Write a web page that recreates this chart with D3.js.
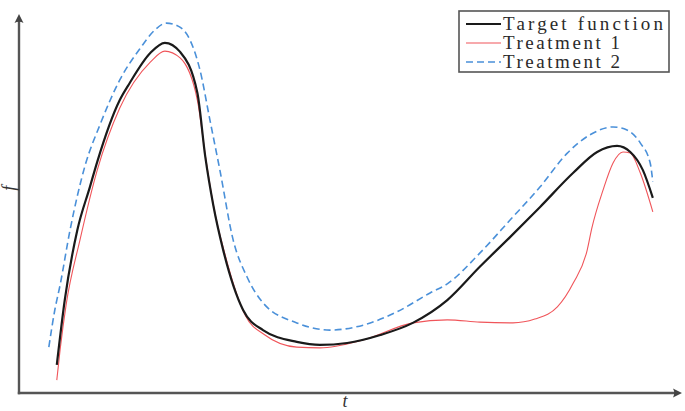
<!DOCTYPE html>
<html>
<head>
<meta charset="utf-8">
<script src="https://cdn.jsdelivr.net/npm/d3@7"></script>
<style>
  body{margin:0;background:#fff}
  svg{display:block}
  .axis .domain{stroke:#555;stroke-width:2.4}
  .label{font-family:"Liberation Serif","DejaVu Serif",serif;font-style:italic;font-size:18px;fill:#333}
  .legend text{font-family:"Liberation Serif","DejaVu Serif",serif;font-size:19px;fill:#2a2a2a}
</style>
</head>
<body>
<div id="chart"><svg></svg></div>
<script>
// values (t, f in axis units 0..10)
const seriesNames = ['Target function', 'Treatment 1', 'Treatment 2']

const tTarget = [0.57,0.69,0.88,1.07,1.18,1.52,1.67,1.98,2.2,2.43,2.69,2.81,2.93,3.08,3.38,3.68,4.19,4.54,4.95,5.45,5.94,6.46,6.95,7.41,7.86,8.36,8.72,9.02,9.22,9.41,9.56]
const fTarget = [0.74,2.45,4.3,5.44,6.1,7.73,8.18,8.97,9.24,9.0,7.92,6.23,4.96,3.77,2.19,1.66,1.35,1.27,1.32,1.53,1.85,2.45,3.33,4.12,4.91,5.81,6.36,6.52,6.36,5.88,5.15]

const tTreat1 = [0.57,0.62,0.71,0.92,1.18,1.52,1.98,2.2,2.43,2.69,2.82,2.94,3.11,3.41,3.71,4.19,4.54,5.19,5.94,6.46,6.95,7.45,7.78,8.12,8.36,8.57,8.64,8.81,8.96,9.11,9.22,9.37,9.56]
const fTreat1 = [0.34,1.14,2.32,4.04,5.88,7.52,8.73,9.02,8.84,7.73,6.15,4.88,3.64,2.06,1.53,1.21,1.19,1.4,1.85,1.93,1.87,1.85,1.95,2.27,2.9,3.77,4.35,5.36,6.07,6.36,6.33,5.81,4.78]

const tTreat2 = [0.45,0.54,0.62,0.77,1.0,1.22,1.52,1.83,2.05,2.22,2.4,2.58,2.73,2.88,3.03,3.23,3.44,3.68,4.19,4.69,5.19,5.7,6.2,6.46,6.95,7.41,7.86,8.27,8.61,8.96,9.17,9.37,9.52,9.56]
const fTreat2 = [1.21,2.19,2.85,4.3,6.02,7.07,8.26,9.1,9.58,9.76,9.68,9.31,8.52,7.2,5.88,4.04,3.06,2.38,1.85,1.66,1.79,2.14,2.64,2.88,3.69,4.57,5.44,6.33,6.81,7.02,6.94,6.6,6.07,5.57]

const width = 685
const height = 411

let svg = d3.select('#chart').select('svg')
  .attr('width', width)
  .attr('height', height)

let x = d3.scaleLinear().domain([0, 10]).range([19, 682])
let y = d3.scaleLinear().domain([0, 10]).range([393, 14])

// axes without ticks, arrow heads at the ends
let xAxisG = svg.append('g').attr('class', 'axis')
  .attr('transform', `translate(0,${y(0)})`)
  .call(d3.axisBottom(x).tickValues([]).tickSizeOuter(0))
let yAxisG = svg.append('g').attr('class', 'axis')
  .attr('transform', `translate(${x(0)},0)`)
  .call(d3.axisLeft(y).tickValues([]).tickSizeOuter(0))
xAxisG.select('.domain').attr('d', `M${x(0) - 1.2},0H${x(10) - 4}`)
yAxisG.select('.domain').attr('d', `M0,${y(0) + 1.2}V${y(10) + 4}`)

let arrow = (px, py, angle) => svg.append('path')
  .attr('d', 'M0,0L-9,-4.5Q-6.5,0,-9,4.5Z')
  .attr('transform', `translate(${px},${py}) rotate(${angle})`)
  .attr('fill', '#444')
arrow(x(10), y(0), 0)
arrow(x(0), y(10), -90)

svg.append('text').attr('class', 'label')
  .attr('transform', `translate(15,${y(5.4)}) rotate(-90)`)
  .attr('text-anchor', 'middle')
  .text('f')
svg.append('text').attr('class', 'label')
  .attr('x', 345).attr('y', 407)
  .attr('text-anchor', 'middle')
  .text('t')

let line = d3.line()
  .x(d => x(d[0]))
  .y(d => y(d[1]))
  .curve(d3.curveMonotoneX)

let styles = [
  {stroke: '#1a1a1a', width: 2.2, dash: null},
  {stroke: '#f0555a', width: 1.1, dash: null},
  {stroke: '#4a90d9', width: 1.6, dash: '7,4'}
]
let series = [
  d3.zip(tTarget, fTarget),
  d3.zip(tTreat1, fTreat1),
  d3.zip(tTreat2, fTreat2)
]

// draw treatment 2 first so target sits on top
;[2, 1, 0].forEach(i => {
  svg.append('path')
    .datum(series[i])
    .attr('fill', 'none')
    .attr('stroke', styles[i].stroke)
    .attr('stroke-width', styles[i].width)
    .attr('stroke-dasharray', styles[i].dash)
    .attr('d', line)
})

// legend
let textWidths = [160, 117, 117]
let legend = svg.append('g').attr('class', 'legend')
legend.append('rect')
  .attr('x', 459).attr('y', 11)
  .attr('width', 210).attr('height', 61)
  .attr('fill', '#fff')
  .attr('stroke', '#555')
  .attr('stroke-width', 1.6)
seriesNames.forEach((name, i) => {
  let ly = 24 + i * 19
  legend.append('line')
    .attr('x1', 466).attr('x2', 501)
    .attr('y1', ly).attr('y2', ly)
    .attr('stroke', styles[i].stroke)
    .attr('stroke-width', styles[i].width)
    .attr('stroke-dasharray', styles[i].dash)
  legend.append('text')
    .attr('x', 503).attr('y', ly + 6)
    .attr('textLength', textWidths[i])
    .attr('lengthAdjust', 'spacing')
    .text(name)
})
</script>
</body>
</html>
